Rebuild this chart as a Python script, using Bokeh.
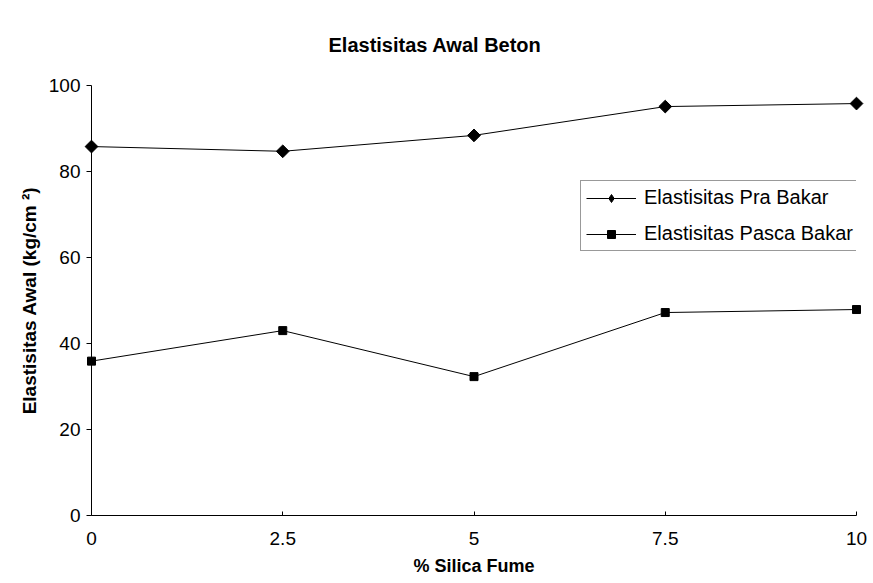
import math
from bokeh.plotting import figure
from bokeh.models import Range1d, FixedTicker, Legend, LegendItem
from bokeh.embed import file_html
from bokeh.resources import INLINE

silica = [0, 2.5, 5, 7.5, 10]
tick_labels = ["0", "2.5", "5", "7.5", "10"]
pra_bakar = [85.8, 84.7, 88.4, 95.1, 95.8]
pasca_bakar = [35.9, 43.0, 32.3, 47.2, 47.9]
y_ticks = [0, 20, 40, 60, 80, 100]

FONT = "Liberation Sans"

p = figure(width=873, height=583, output_backend="svg", toolbar_location=None,
           x_range=Range1d(0, 10), y_range=Range1d(0, 100),
           min_border_left=91, min_border_right=17, min_border_top=85, min_border_bottom=68,
           title="Elastisitas Awal Beton")
p.outline_line_color = None
p.grid.grid_line_color = None
p.background_fill_color = "white"
p.border_fill_color = "white"

p.title.align = "left"
p.title.offset = 237
p.title.text_font = FONT
p.title.text_font_size = "20px"
p.title.text_font_style = "bold"
p.title.text_color = "black"
p.title.standoff = 59

xa = p.xaxis[0]
xa.ticker = FixedTicker(ticks=silica)
xa.major_label_overrides = {v: l for v, l in zip(silica, tick_labels)}
xa.axis_label = "% Silica Fume"
ya = p.yaxis[0]
ya.ticker = FixedTicker(ticks=y_ticks)
ya.axis_label = "Elastisitas Awal (kg/cm ²)"

for ax in (xa, ya):
    ax.axis_line_color = "black"
    ax.major_tick_line_color = "black"
    ax.minor_tick_line_color = None
    ax.major_label_text_font = FONT
    ax.major_label_text_font_size = "19px"
    ax.major_label_text_color = "black"
    ax.axis_label_text_font = FONT
    ax.axis_label_text_font_style = "bold"
    ax.axis_label_text_color = "black"

xa.axis_label_text_font_size = "18px"
ya.axis_label_text_font_size = "19px"
xa.major_tick_out = 0
xa.major_tick_in = 4
xa.major_label_standoff = 16
xa.axis_label_standoff = 8
ya.major_tick_out = 5
ya.major_tick_in = 0
ya.major_label_standoff = 6
ya.axis_label_standoff = 6

l1 = p.line(silica, pra_bakar, line_color="black", line_width=1, level="overlay")
# diamond used by the legend; hidden under the wider rotated-square markers in the plot
d1 = p.scatter(silica, pra_bakar, marker="diamond", size=10, color="black", level="overlay")
m1 = p.scatter(silica, pra_bakar, marker="square", angle=math.pi / 4, size=9,
               color="black", level="overlay")
l2 = p.line(silica, pasca_bakar, line_color="black", line_width=1, level="overlay")
m2 = p.scatter(silica, pasca_bakar, marker="square", size=8, color="black", level="overlay")

legend = Legend(items=[
    LegendItem(label="Elastisitas Pra Bakar", renderers=[l1, d1]),
    LegendItem(label="Elastisitas Pasca Bakar", renderers=[l2, m2]),
], location=(489, 264))
legend.label_text_font = FONT
legend.label_text_font_size = "20px"
legend.label_text_color = "black"
legend.glyph_width = 50
legend.glyph_height = 20
legend.spacing = 13
legend.padding = 5
legend.margin = 0
legend.label_standoff = 8
legend.border_line_color = "#333"
legend.border_line_width = 1
legend.background_fill_color = "white"
legend.background_fill_alpha = 1
p.add_layout(legend)

open("out.html", "w").write(file_html(p, INLINE))
